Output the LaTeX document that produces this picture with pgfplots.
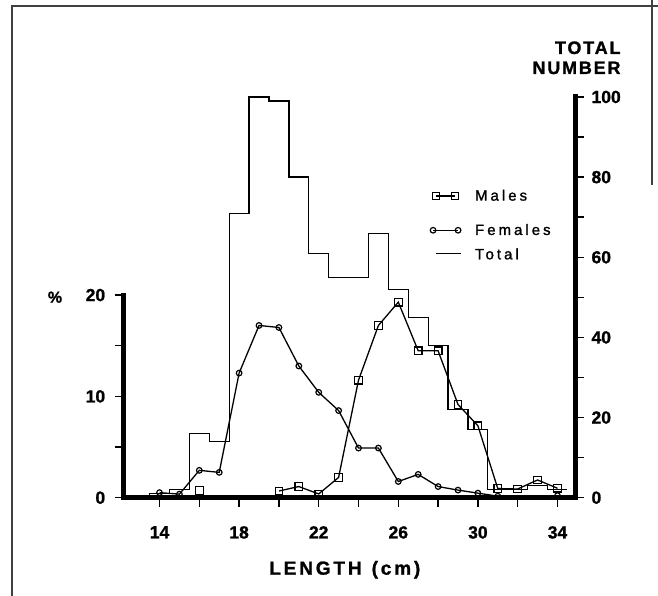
\documentclass[border=0pt]{standalone}
\usepackage{pgfplots}
\pgfplotsset{compat=1.18}
\usepackage{fontspec}
\setmainfont{Liberation Sans}
\newfontfamily\heavy[FakeBold=1.2]{Liberation Sans}
\newfontfamily\spaced[LetterSpace=10,FakeBold=1.2]{Liberation Sans}
\newfontfamily\spacedx[LetterSpace=15,FakeBold=1.2]{Liberation Sans}
\newfontfamily\legfont[LetterSpace=20,FakeBold=1.3]{Liberation Sans}
\begin{document}
\begin{tikzpicture}
\useasboundingbox (-123.7pt,-98.3pt) rectangle (534.3pt,497.7pt);
% frame of the figure
\draw[line width=1.2pt, black!75] (-111.7pt,-98.3pt) -- (-111.7pt,491.7pt) -- (534.3pt,491.7pt);
\draw[line width=1.2pt, black!75] (528.3pt,497.7pt) -- (528.3pt,312.7pt);
% ---------- percentage axis (left) ----------
\begin{axis}[
  at={(0pt,0pt)}, anchor=south west,
  scale only axis, width=451.3pt, height=400.7pt,
  xmin=12.2, xmax=34.88, ymin=0, ymax=39.55,
  clip=false,
  axis line style={draw=none},
  tick pos=left, tick align=outside,
  xtick={14,18,...,34}, minor xtick={16,20,...,32},
  ytick={0,10,20}, minor ytick={5,15},
  major tick length=9pt, minor tick length=9pt,
  every tick/.style={line width=1.5pt, black},
  minor tick style={line width=1.5pt, black},
  /pgf/number format/assume math mode=true,
  ticklabel style={font=\heavy\bfseries\fontsize{17.5}{17.5}\selectfont},
  xticklabel style={yshift=-16pt},
  yticklabel style={xshift=-6pt},
  legend style={at={(0.674,0.753)}, anchor=west, draw=none, fill=none,
    inner sep=0pt, font=\legfont\fontsize{15}{15}\selectfont,
    nodes={inner sep=0pt}, column sep=12pt},
  legend cell align=left,
]
\draw[line width=5pt, line cap=rect] (axis cs:12.2,20) -- (axis cs:12.2,0) -- (axis cs:34.88,0);
% Females (%)
\addplot[black, line width=1.3pt, mark=o, mark size=2.8pt,
  mark options={solid, fill=white, line width=1.2pt}, unbounded coords=jump, forget plot]
  coordinates {
  (14,0.5) (15,0.35) (16,2.7) (17,2.5) (18,12.3) (19,17.0) (20,16.8)
  (21,13.0) (22,10.4) (23,8.6) (24,4.9) (25,4.9) (26,1.6) (27,2.3)
  (28,1.1) (29,0.75) (30,0.45) (31,0.15) (32,nan) (34,0.2)
  };
% Males (%)
\addplot[black, line width=1.3pt, mark=square, mark size=3.8pt,
  mark options={solid, fill=white, line width=1.2pt}, unbounded coords=jump,
  legend image code/.code={
    \path[draw=none, fill=none] (-5pt,-4pt) rectangle (30pt,4pt);
    \draw[mark repeat=1, mark phase=1] plot coordinates {(3pt,0pt) (22pt,0pt)};}]
  coordinates {
  (16,0.7) (17,nan) (20,0.66) (21,1.1) (22,0.37) (23,2.0) (24,11.6)
  (25,17.0) (26,19.3) (27,14.5) (28,14.5) (29,9.2) (30,7.1) (31,0.9)
  (32,0.86) (33,1.75) (34,0.93)
  };
\addlegendentry{Males}
\end{axis}
% ---------- total number axis (right) ----------
\begin{axis}[
  at={(0pt,0pt)}, anchor=south west,
  scale only axis, width=451.3pt, height=400.7pt,
  xmin=12.2, xmax=34.88, ymin=0, ymax=100,
  clip=false,
  axis line style={draw=none},
  hide x axis,
  ytick pos=right, tick align=outside,
  ytick={0,20,...,100}, minor ytick={10,30,...,90},
  major tick length=9pt, minor tick length=9pt,
  every tick/.style={line width=1.5pt, black},
  minor tick style={line width=1.5pt, black},
  /pgf/number format/assume math mode=true,
  ticklabel style={font=\heavy\bfseries\fontsize{17.5}{17.5}\selectfont},
  yticklabel style={xshift=4pt},
  legend style={at={(0.674,0.637)}, anchor=west, draw=none, fill=none,
    inner sep=0pt, font=\legfont\fontsize{15}{15}\selectfont,
    nodes={inner sep=0pt}, column sep=12pt, row sep=12pt},
  legend cell align=left,
]
\draw[line width=5pt, line cap=rect] (axis cs:34.88,0) -- (axis cs:34.88,100);
\addlegendimage{black, line width=1.3pt, mark=o, mark size=2.8pt,
  mark options={solid, fill=white, line width=1.2pt},
  legend image code/.code={
    \path[draw=none, fill=none] (-5pt,-4pt) rectangle (30pt,4pt);
    \draw[mark repeat=1, mark phase=1] plot coordinates {(0pt,0pt) (25pt,0pt)};}}
\addlegendentry{Females}
% Total number (histogram)
\addplot[black, line width=1.3pt, const plot mark left,
  legend image code/.code={
    \path[draw=none, fill=none] (-5pt,-4pt) rectangle (30pt,4pt);
    \draw (3pt,1pt) -- (28pt,1pt);}]
  coordinates {
  (13.5,0) (13.5,1) (14.5,2) (15.5,16) (16.5,14) (17.5,71) (18.5,100)
  (19.5,99) (20.5,80) (21.5,61) (22.5,55) (23.5,55) (24.5,66) (25.5,52)
  (26.5,45) (27.5,38) (28.5,22) (29.5,17) (30.5,2) (31.5,2) (32.5,3)
  (33.5,2) (34.5,2)
  };
\addlegendentry{Total}
\end{axis}
% ---------- axis titles ----------
\node[anchor=base, font=\heavy\bfseries\fontsize{16}{16}\selectfont] at (-68.7pt,195pt) {\%};
\node[anchor=base east, inner sep=0pt, font=\spaced\bfseries\fontsize{18}{18}\selectfont] at (497pt,443.7pt) {TOTAL};
\node[anchor=base east, inner sep=0pt, font=\spaced\bfseries\fontsize{18}{18}\selectfont] at (497pt,423.7pt) {NUMBER};
\node[anchor=base, inner sep=0pt, font=\spacedx\bfseries\fontsize{19}{19}\selectfont] at (221.1pt,-77pt) {LENGTH\hspace{10pt}(cm)};
\end{tikzpicture}
\end{document}
